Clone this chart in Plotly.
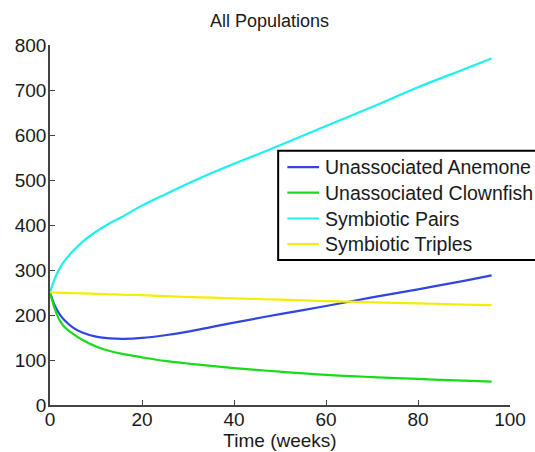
import plotly.graph_objects as go

weeks = [0, 1, 2, 3, 5, 7, 10, 13, 16, 20, 25, 30, 35, 40, 50, 60, 70, 80, 90, 96]
anemone = [250, 222, 203, 190, 172, 161, 152, 148, 147, 149, 155, 163, 173, 183, 202, 220, 239, 257, 276, 288]
clownfish = [250, 215, 190, 175, 158, 145, 130, 120, 113, 106, 98, 92, 87, 82, 74, 67, 62, 58, 54, 52]
pairs = [250, 280, 302, 318, 342, 362, 385, 404, 420, 443, 468, 492, 515, 536, 577, 620, 662, 706, 746, 770]
triples = [250, 250, 249.5, 249, 248.5, 248, 247, 246, 245, 244, 242, 240, 238.5, 237, 234, 231, 228, 226, 223, 222]

names = ["Unassociated Anemone", "Unassociated Clownfish", "Symbiotic Pairs", "Symbiotic Triples"]
colors = ["#2f45e6", "#18dc18", "#1ef0f0", "#f2ee00"]
series = [anemone, clownfish, pairs, triples]

FAM = "Liberation Sans, Arial, sans-serif"
fig = go.Figure()
for nm, col, ys in zip(names, colors, series):
    fig.add_trace(go.Scatter(x=weeks, y=ys, mode="lines", name=nm, showlegend=False,
                             line=dict(color=col, width=2.2, shape="spline", smoothing=1.0)))

# Legend box drawn in paper coordinates (MATLAB-style, partly off the page)
shapes = [dict(type="rect", xref="paper", yref="paper", x0=0.496, x1=1.07, y0=0.403, y1=0.706,
               fillcolor="white", line=dict(color="black", width=2), layer="above")]
annotations = []
row_y = [0.661, 0.590, 0.518, 0.447]
for nm, col, ry in zip(names, colors, row_y):
    shapes.append(dict(type="line", xref="paper", yref="paper", x0=0.516, x1=0.585, y0=ry, y1=ry,
                       line=dict(color=col, width=2.2), layer="above"))
    annotations.append(dict(text=nm, x=0.594, y=ry, xref="paper", yref="paper",
                            xanchor="left", yanchor="middle", showarrow=False,
                            font=dict(family=FAM, size=19.5, color="#1a1a1a")))
annotations.append(dict(text="All Populations", x=0.478, y=1, xref="paper", yref="paper",
                        xanchor="center", yanchor="bottom", yshift=12, showarrow=False,
                        font=dict(family=FAM, size=18, color="#1a1a1a")))

font = dict(family=FAM, size=19, color="#1a1a1a")
axis_common = dict(showline=True, linecolor="#444", linewidth=1.5, ticks="inside", ticklen=5,
                   tickcolor="#444", showgrid=False, zeroline=False, mirror=False,
                   tickfont=font)
fig.update_layout(
    width=535, height=452,
    margin=dict(l=50, r=25, t=45, b=47, autoexpand=False),
    plot_bgcolor="white", paper_bgcolor="white",
    font=font,
    xaxis=dict(range=[0, 100], tickvals=[0, 20, 40, 60, 80, 100], ticklabelstandoff=-4,
               title=dict(text="Time (weeks)", font=font, standoff=0), **axis_common),
    yaxis=dict(range=[0, 800], tickvals=[0, 100, 200, 300, 400, 500, 600, 700, 800],
               ticklabelstandoff=-2, **axis_common),
    showlegend=False,
    shapes=shapes,
    annotations=annotations,
)

fig.write_html("out.html")
